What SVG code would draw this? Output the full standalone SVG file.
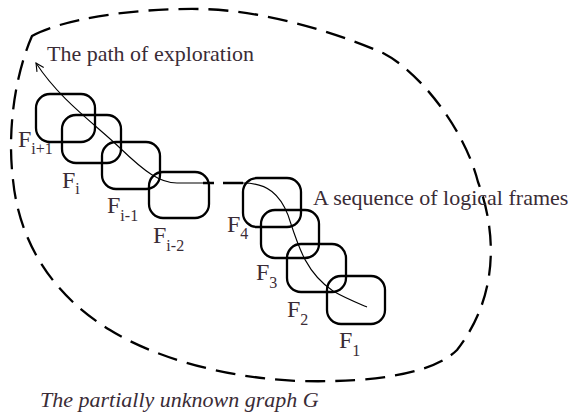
<svg xmlns="http://www.w3.org/2000/svg" width="571" height="415" viewBox="0 0 571 415">
<defs>
<style>
.frame{fill:none;stroke:#000;stroke-width:2.3}
.lbl{font-family:"Liberation Serif","Times New Roman",serif;font-size:24px;fill:#3a2c36}
.sub{font-size:16px}
.txt{font-family:"Liberation Serif","Times New Roman",serif;font-size:22px;fill:#3a2c36}
.thin{fill:none;stroke:#000;stroke-width:1.1}
</style>
<marker id="open" markerUnits="userSpaceOnUse" markerWidth="12" markerHeight="12" refX="9" refY="5" orient="auto">
<path d="M1,1 L9,5 L1,9" fill="none" stroke="#000" stroke-width="1.1"/>
</marker>
</defs>
<rect width="571" height="415" fill="#fff"/>
<g id="graph-boundary">
<path d="M32,36 C60,20 130,8 200,9 C260,10 330,30 383,53 C420,72 465,130 478,182 C496,230 500,295 457,350 C435,372 380,383 300,381 C220,378 150,355 110,330 C60,300 20,250 13,180 C7,130 15,75 32,36 Z" fill="none" stroke="#000" stroke-width="2.3" stroke-dasharray="20 10"/>
</g>
<g id="frame-Fi+1"><rect class="frame" x="36" y="94" width="59" height="48" rx="14"/><text class="lbl" x="18" y="147">F<tspan class="sub" dy="7">i+1</tspan></text></g>
<g id="frame-Fi"><rect class="frame" x="62" y="115" width="59" height="48" rx="14"/><text class="lbl" x="62" y="188">F<tspan class="sub" dy="6">i</tspan></text></g>
<g id="frame-Fi-1"><rect class="frame" x="102" y="142" width="58" height="47" rx="14"/><text class="lbl" x="107" y="213">F<tspan class="sub" dy="8">i-1</tspan></text></g>
<g id="frame-Fi-2"><rect class="frame" x="149" y="172" width="60" height="46" rx="14"/><text class="lbl" x="153" y="243">F<tspan class="sub" dy="8">i-2</tspan></text></g>
<g id="frame-F4"><rect class="frame" x="243" y="178" width="58" height="49" rx="14"/><text class="lbl" x="227" y="232">F<tspan class="sub" dy="7">4</tspan></text></g>
<g id="frame-F3"><rect class="frame" x="261" y="210" width="58" height="48" rx="14"/><text class="lbl" x="256" y="280">F<tspan class="sub" dy="8">3</tspan></text></g>
<g id="frame-F2"><rect class="frame" x="287" y="244" width="59" height="48" rx="14"/><text class="lbl" x="287" y="317">F<tspan class="sub" dy="8">2</tspan></text></g>
<g id="frame-F1"><rect class="frame" x="327" y="276" width="58" height="48" rx="14"/><text class="lbl" x="339" y="348">F<tspan class="sub" dy="8">1</tspan></text></g>
<g id="connectors">
<path class="thin" d="M203,183 L177,183 C160,183 145,172 120,148 S60,100 36,63" marker-end="url(#open)"/>
<path d="M203,183 L214,183 M223,183 L243,183" stroke="#000" stroke-width="2.3" fill="none"/>
<path class="thin" d="M243,183 C268,183 280,195 288,215 C298,245 305,272 333,291 C345,298 355,302 367,307"/>
</g>
<g id="labels">
<text class="txt" x="47" y="61">The path of exploration</text>
<text class="txt" x="313" y="205">A sequence of logical frames</text>
<text class="txt" x="40" y="407" font-style="italic">The partially unknown graph G</text>
</g>
</svg>
